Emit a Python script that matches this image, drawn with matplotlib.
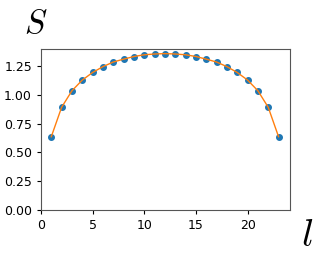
import matplotlib
matplotlib.use("Agg")
import matplotlib.pyplot as plt

# ── Data ──────────────────────────────────────────────────────────────────────
l_vals = list(range(1, 24))
s_half = [0.637, 0.893, 1.037, 1.130, 1.196, 1.247, 1.287, 1.312, 1.335, 1.350, 1.357]
s_vals = s_half + [1.360] + s_half[::-1]

plt.rcParams["mathtext.fontset"] = "cm"

fig = plt.figure(figsize=(3.2, 2.74), dpi=100)
ax = fig.add_axes([0.128, 0.234, 0.778, 0.587])

ax.plot(l_vals, s_vals, "o", color="C0", markersize=4, zorder=2)
ax.plot(l_vals, s_vals, "-", color="C1", linewidth=1, zorder=3)

ax.set_xlim(0, 24.1)
ax.set_ylim(0, 1.4)
ax.set_xticks([0, 5, 10, 15, 20])
ax.set_yticks([0, 0.25, 0.5, 0.75, 1.0, 1.25])
ax.tick_params(labelsize=9, length=3)
for sp in ax.spines.values():
    sp.set_color("#555555")

fig.text(36 / 320, 1 - 23 / 274, r"$S$", fontsize=24, ha="center", va="center")
fig.text(307 / 320, 1 - 235 / 274, r"$l$", fontsize=28, ha="center", va="center")

fig.savefig("out.png", dpi=100)
